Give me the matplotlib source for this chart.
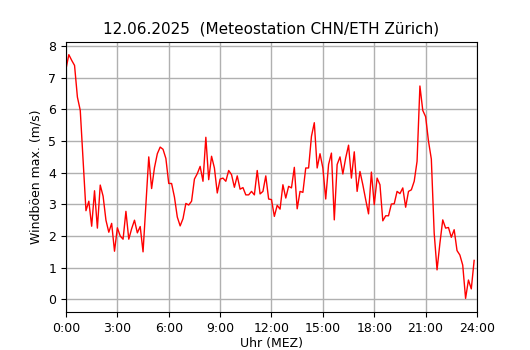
import matplotlib
matplotlib.use("Agg")
import matplotlib.pyplot as plt
import numpy as np

title = "12.06.2025  (Meteostation CHN/ETH Zürich)"
xlabel = "Uhr (MEZ)"
ylabel = "Windböen max. (m/s)"
tick_hours = [0, 3, 6, 9, 12, 15, 18, 21, 24]
tick_labels = ["0:00", "3:00", "6:00", "9:00", "12:00", "15:00", "18:00", "21:00", "24:00"]

# 10-minute values from 0:00 to 23:50
gusts = [
    7.28, 7.73, 7.55, 7.39, 6.39, 5.97, 4.40, 2.80, 3.10, 2.31, 3.43, 2.25,
    3.61, 3.26, 2.50, 2.12, 2.40, 1.52, 2.26, 2.00, 1.90, 2.78, 1.90, 2.23,
    2.50, 2.10, 2.30, 1.50, 3.00, 4.50, 3.50, 4.16, 4.60, 4.81, 4.74, 4.45,
    3.66, 3.66, 3.23, 2.60, 2.32, 2.55, 3.03, 2.98, 3.10, 3.80, 3.97, 4.20,
    3.73, 5.12, 3.78, 4.52, 4.15, 3.36, 3.80, 3.83, 3.73, 4.07, 3.94, 3.54,
    3.90, 3.48, 3.53, 3.30, 3.30, 3.41, 3.30, 4.07, 3.33, 3.41, 3.90, 3.17,
    3.15, 2.62, 2.97, 2.85, 3.62, 3.20, 3.57, 3.52, 4.17, 2.86, 3.41, 3.38,
    4.15, 4.15, 5.15, 5.58, 4.15, 4.60, 4.15, 3.17, 4.26, 4.62, 2.51, 4.26,
    4.50, 3.96, 4.47, 4.87, 3.83, 4.66, 3.41, 4.04, 3.62, 3.15, 2.70, 4.02,
    2.99, 3.83, 3.62, 2.48, 2.64, 2.64, 3.01, 3.02, 3.41, 3.34, 3.52, 2.91,
    3.41, 3.46, 3.73, 4.36, 6.74, 5.97, 5.77, 5.00, 4.43, 2.09, 0.93, 1.77,
    2.51, 2.25, 2.27, 1.96, 2.20, 1.54, 1.40, 1.08, 0.03, 0.61, 0.33, 1.23,
]
hours = np.arange(len(gusts)) / 6.0

fig = plt.figure(figsize=(5.3, 3.5), dpi=100)
ax = fig.add_axes([0.1245, 0.1086, 0.7755, 0.7714])
ax.plot(hours, gusts, color="red", linewidth=1.0)
ax.set_xlim(0, 24)
ax.set_ylim(-0.4, 8.13)
ax.set_xticks(tick_hours)
ax.set_xticklabels(tick_labels)
ax.set_yticks(range(0, 9))
ax.grid(True, color="#b0b0b0", linewidth=1.0)
ax.set_axisbelow(True)
ax.set_title(title, fontsize=11)
ax.set_xlabel(xlabel, fontsize=9, labelpad=2)
ax.set_ylabel(ylabel, fontsize=9)
ax.tick_params(labelsize=9)
fig.savefig("out.png", dpi=100)
